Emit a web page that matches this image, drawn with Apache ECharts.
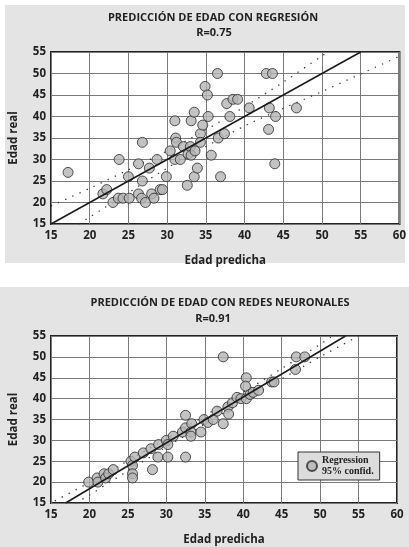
<!DOCTYPE html>
<html>
<head>
<meta charset="utf-8">
<script src="https://cdn.jsdelivr.net/npm/echarts@6/dist/echarts.min.js"></script>
<style>
    html, body { margin: 0; padding: 0; background: #fff; }
    #chart { width: 409px; height: 547px; }
</style>
</head>
<body>
<div id="chart"></div>
<script>
// --- chart 1: regresión (R=0.75)
const regPredicted = [17.2, 21.7, 22.2, 23.0, 23.8, 23.7, 24.3, 25.1, 25.0, 26.3, 26.8, 26.3, 26.7, 27.2, 26.8,
    27.7, 28.0, 28.3, 28.7, 29.1, 29.4, 29.9, 30.4, 31.0, 31.1, 31.2, 31.0, 31.7, 32.1, 32.7, 33.0, 33.1, 33.6,
    33.1, 33.5, 33.5, 32.6, 33.9, 34.3, 34.6, 34.3, 34.9, 35.2, 35.3, 35.7, 36.5, 36.6, 36.9, 37.4, 37.7, 38.1,
    38.5, 39.1, 40.6, 42.8, 43.6, 43.2, 43.1, 44.0, 43.9, 46.7];
const regReal = [27, 22, 23, 20, 30, 21, 21, 21, 26, 29, 34, 22, 21, 20, 25,
    28, 22, 21, 30, 23, 23, 26, 32, 39, 35, 34, 30, 30, 33, 31.3, 33, 31, 32,
    39, 41, 26, 24, 28, 36, 38, 34, 47, 45, 40, 31, 50, 35, 26, 36, 43, 40,
    44, 44, 42, 50, 50, 42, 37, 40, 29, 42];
const regLineX = [15, 55];
const regLineY = [15, 55];
const regUpperX = [15, 20, 25, 30, 35, 40, 45, 50, 50.8];
const regUpperY = [19.2, 23.3, 27.6, 32.0, 36.9, 42.3, 48.0, 54.1, 55];
const regLowerX = [18.6, 20, 25, 30, 35, 40, 45, 50, 55, 60];
const regLowerY = [15, 16.6, 22.3, 28.0, 33.0, 37.8, 41.9, 45.8, 49.9, 54.0];

// --- chart 2: redes neuronales (R=0.91)
const nnPredicted = [19.9, 21.0, 21.1, 21.9, 22.1, 22.5, 23.1, 25.4, 25.6, 25.6, 25.6, 25.9, 27.0, 28.0, 28.2,
    28.9, 29.0, 30.0, 30.2, 30.2, 30.9, 32.1, 32.5, 32.5, 32.5, 33.3, 33.2, 33.2, 34.5, 34.9, 35.4, 36.1, 36.6,
    37.4, 37.4, 38.0, 38.1, 38.6, 39.2, 39.7, 40.4, 40.3, 40.4, 40.9, 41.3, 42.0, 43.7, 44.0, 46.8, 46.9, 48.0];
const nnReal = [20, 21, 20, 22, 21, 22, 23, 25, 24, 22, 21, 26, 27, 28, 23,
    26, 29, 30, 29, 26, 31, 32, 36, 33, 26, 34, 32, 31, 32, 35, 34.3, 35, 37,
    50, 34, 38, 36.3, 39, 40.3, 40, 45, 43, 40, 41, 41.5, 42, 44, 44, 47, 50, 50];
const nnLineX = [16.9, 53.3];
const nnLineY = [15, 55];
const nnUpperX = [15.5, 20, 25, 30, 35, 40, 45, 50, 51.6];
const nnUpperY = [15.5, 19.9, 25.1, 30.4, 35.9, 41.5, 47.2, 53.0, 55];
const nnLowerX = [18.2, 20, 25, 30, 35, 40, 45, 50, 55];
const nnLowerY = [15, 16.9, 22.7, 28.4, 33.9, 39.3, 44.7, 50.0, 55];

const xTicks = {min: 15, max: 60, interval: 5};
const yTicks = {min: 15, max: 55, interval: 5};

const FONT = '"Open Sans", "DejaVu Sans", sans-serif';
const TXT = '#222';

const pairs = (xs, ys) => xs.map((x, i) => [x, ys[i]]);

function axisX(gridIndex) {
    return {
        type: 'value', gridIndex: gridIndex,
        min: xTicks.min, max: xTicks.max, interval: xTicks.interval,
        name: 'Edad predicha', nameLocation: 'middle', nameGap: 31,
        nameTextStyle: {fontFamily: FONT, fontSize: 11.5, fontWeight: 'bold', color: TXT},
        axisLine: {show: false}, axisTick: {show: false},
        axisLabel: {fontFamily: FONT, fontSize: 11.5, fontWeight: 'bold', color: TXT, margin: 6},
        splitLine: {show: true, lineStyle: {color: '#7a7a7a', width: 1}}
    };
}

function axisY(gridIndex) {
    return {
        type: 'value', gridIndex: gridIndex,
        min: yTicks.min, max: yTicks.max, interval: yTicks.interval,
        name: 'Edad real', nameLocation: 'middle', nameGap: 31, nameRotate: 90,
        nameTextStyle: {fontFamily: FONT, fontSize: 11.5, fontWeight: 'bold', color: TXT},
        axisLine: {show: false}, axisTick: {show: false},
        axisLabel: {fontFamily: FONT, fontSize: 11.5, fontWeight: 'bold', color: TXT, margin: 5},
        splitLine: {show: true, lineStyle: {color: '#7a7a7a', width: 1}}
    };
}

function scatterSeries(name, idx, xs, ys) {
    return {
        name: name, type: 'scatter', xAxisIndex: idx, yAxisIndex: idx,
        symbol: 'circle', symbolSize: 10,
        itemStyle: {color: '#b4b4b4', borderColor: '#2a2a2a', borderWidth: 1},
        data: pairs(xs, ys), z: 3, silent: true
    };
}

function lineSeries(idx, xs, ys, dotted) {
    return {
        type: 'line', xAxisIndex: idx, yAxisIndex: idx,
        showSymbol: false, smooth: dotted ? 0.3 : false,
        lineStyle: dotted
            ? {color: '#333', width: 1.3, type: [1.3, 6.5]}
            : {color: '#1a1a1a', width: 1.5},
        data: pairs(xs, ys), z: dotted ? 2 : 4, silent: true
    };
}

function centredText(x, y, text, size) {
    return {
        type: 'text', x: x, y: y, z: 10,
        style: {
            text: text, fill: TXT,
            font: 'bold ' + size + 'px ' + FONT,
            align: 'center', verticalAlign: 'middle',
            textAlign: 'center', textVerticalAlign: 'middle'
        }
    };
}

const chart = echarts.init(document.getElementById('chart'), null, {renderer: 'canvas'});

chart.setOption({
    animation: false,
    backgroundColor: '#fff',
    graphic: [
        {type: 'rect', shape: {x: 5, y: 5, width: 400, height: 258}, style: {fill: '#e4e4e4'}, z: -10},
        {type: 'rect', shape: {x: 0, y: 287, width: 409, height: 260}, style: {fill: '#e4e4e4'}, z: -10},
        centredText(213, 18, 'PREDICCIÓN DE EDAD CON REGRESIÓN', 11),
        centredText(214, 33, 'R=0.75', 11),
        centredText(220, 303, 'PREDICCIÓN DE EDAD CON REDES NEURONALES', 11),
        centredText(213, 319, 'R=0.91', 11)
    ],
    grid: [
        {left: 49, top: 52, width: 351, height: 172, show: true,
            backgroundColor: '#fff', borderColor: '#222', borderWidth: 2},
        {left: 47, top: 336, width: 350, height: 173, show: true,
            backgroundColor: '#fff', borderColor: '#222', borderWidth: 2}
    ],
    xAxis: [axisX(0), axisX(1)],
    yAxis: [axisY(0), axisY(1)],
    legend: {
        data: [{name: 'Regression', icon: 'circle'}],
        left: 298, top: 452, orient: 'vertical',
        itemWidth: 10, itemHeight: 10,
        padding: [3, 6, 3, 8],
        backgroundColor: '#dcdcdc', borderColor: '#333', borderWidth: 1,
        formatter: () => 'Regression\n95% confid.',
        textStyle: {fontFamily: '"Liberation Serif", serif', fontSize: 10, fontWeight: 'bold',
            color: TXT, lineHeight: 11},
        selectedMode: false
    },
    series: [
        scatterSeries('RegresionPuntos', 0, regPredicted, regReal),
        lineSeries(0, regLineX, regLineY, false),
        lineSeries(0, regUpperX, regUpperY, true),
        lineSeries(0, regLowerX, regLowerY, true),
        scatterSeries('Regression', 1, nnPredicted, nnReal),
        lineSeries(1, nnLineX, nnLineY, false),
        lineSeries(1, nnUpperX, nnUpperY, true),
        lineSeries(1, nnLowerX, nnLowerY, true)
    ]
});
</script>
</body>
</html>
